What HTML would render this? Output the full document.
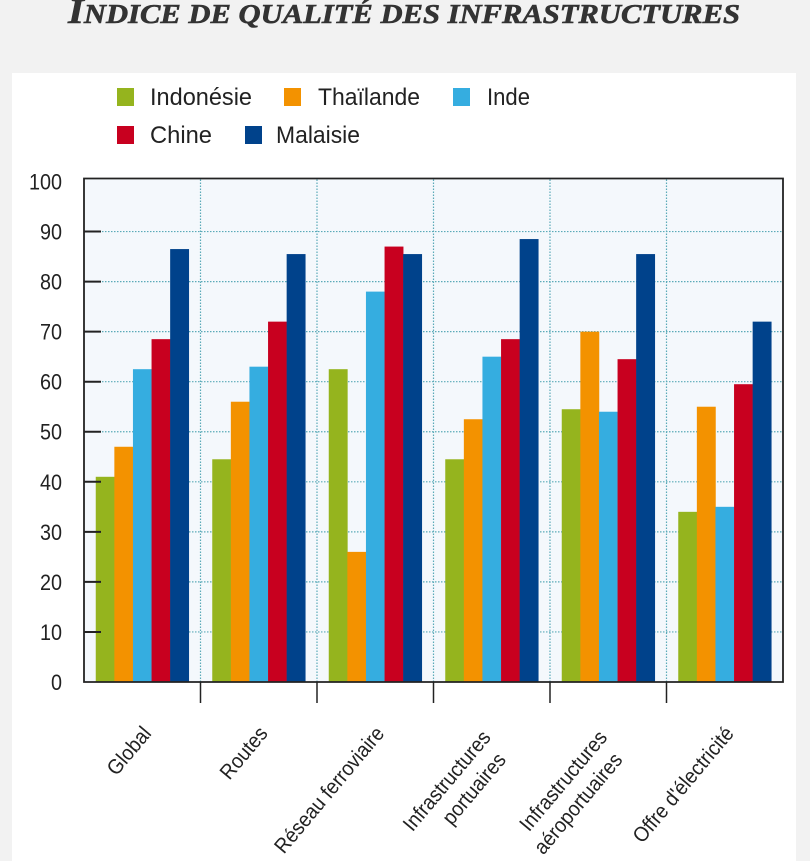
<!DOCTYPE html>
<html><head><meta charset="utf-8"><style>
html,body{margin:0;padding:0;background:#f2f2f2;}
svg{display:block;font-family:"Liberation Sans",sans-serif;}
</style></head><body>
<svg id="chart" width="810" height="861" viewBox="0 0 810 861" xmlns="http://www.w3.org/2000/svg">
<rect x="0" y="0" width="810" height="861" fill="#f2f2f2"/>
<text x="68" y="23" font-family="Liberation Serif,serif" font-weight="bold" font-style="italic" font-size="36" fill="#333" stroke="#333" stroke-width="0.6" textLength="672" lengthAdjust="spacingAndGlyphs">I<tspan font-size="27">NDICE DE QUALITÉ DES INFRASTRUCTURES</tspan></text>
<rect x="12" y="73" width="784" height="800" fill="#ffffff"/>
<g id="legend"></g>
<rect x="84" y="179" width="699" height="503" fill="#f4f8fc"/>
<g id="grid"></g>
<g id="bars"></g>
<g id="axes"></g>
</svg>
<script>
const categories = [["Global"],["Routes"],["Réseau ferroviaire"],["Infrastructures","portuaires"],["Infrastructures","aéroportuaires"],["Offre d'électricité"]];
const seriesNames = ["Indonésie","Thaïlande","Inde","Chine","Malaisie"];
const indonesie = [41,44.5,62.5,44.5,54.5,34];
const thailande = [47,56,26,52.5,70,55];
const inde = [62.5,63,78,65,54,35];
const chine = [68.5,72,87,68.5,64.5,59.5];
const malaisie = [86.5,85.5,85.5,88.5,85.5,72];
const yTicks = [0,10,20,30,40,50,60,70,80,90,100];
const colors = ["#95b41e","#f39200","#35ade0","#c8001f","#00428b"];
const series = [indonesie,thailande,inde,chine,malaisie];

const NS="http://www.w3.org/2000/svg";
const L=84,R=783,T=181.5,B=682;
const gw=(R-L)/categories.length;
const y=v=>B-(v/100)*(B-T);
const xg=i=>L+i*gw;
function mk(tag,attrs,parent){const e=document.createElementNS(NS,tag);for(const k in attrs)e.setAttribute(k,attrs[k]);parent.appendChild(e);return e;}
const grid=document.getElementById('grid'),bars=document.getElementById('bars'),axes=document.getElementById('axes'),legend=document.getElementById('legend');

yTicks.forEach(t=>{
  if(t>0&&t<100){
    const g=mk('line',{x1:L,x2:R,y1:y(t),y2:y(t),stroke:'#5aaab8','stroke-width':1.2,'stroke-dasharray':'1.5 1.5'},grid);
    
    
    const tk=mk('line',{x1:L,x2:L+17,y1:y(t),y2:y(t),stroke:'#222','stroke-width':2},axes);
    
    
  }
  const lb=mk('text',{x:62,y:y(t)+8,'text-anchor':'end','font-size':22,fill:'#222',transform:`translate(62,0) scale(0.9,1) translate(-62,0)`},axes);
  lb.textContent=t;
  
  
});
for(let i=1;i<categories.length;i++){
  const g=mk('line',{x1:xg(i),x2:xg(i),y1:T-2,y2:B,stroke:'#5aaab8','stroke-width':1.2,'stroke-dasharray':'1.5 1.5'},grid);
  
  
  const tk=mk('line',{x1:xg(i),x2:xg(i),y1:B,y2:B+21,stroke:'#222','stroke-width':1.5},axes);
  
  
}
const bw=18.6, pad=(gw-5*bw)/2;
categories.forEach((c,i)=>{
  series.forEach((s,j)=>{
    const r=mk('rect',{x:xg(i)+pad+j*bw,y:y(s[i]),width:bw+0.3,height:B-y(s[i]),fill:colors[j]},bars);
    
    
  });
  const two=c.length>1;
  const cx=xg(i)+gw/2+(two?0:10), cy=two?B+56:B+52;
  const t=mk('text',{'font-size':21,fill:'#222','text-anchor':'end',transform:`translate(${cx},${cy}) rotate(-50) scale(0.92,1)`},axes);
  
  
  c.forEach((line,k)=>{
    const ts=mk('tspan',{x:k==0?0:-8,dy:k==0?0:26},t);
    ts.textContent=line;
  });
});
const frame=mk('path',{d:`M${L},${T-3}H${R}V${B}H${L}Z`,fill:'none',stroke:'#222','stroke-width':1.8},axes);



const legPos=[[117,97,150,102],[284,97,318,102],[453,97,487,43],[117,135,150,62],[245,135,276,84]];
seriesNames.forEach((n,j)=>{
  const p=legPos[j];
  const r=mk('rect',{x:p[0],y:p[1]-9,width:17,height:18,fill:colors[j]},legend);
  
  
  const t=mk('text',{x:p[2],y:p[1]+8,'font-size':24,fill:'#222',textLength:p[3],lengthAdjust:'spacingAndGlyphs'},legend);
  t.textContent=n;
  
  
});
</script>
</body></html>
